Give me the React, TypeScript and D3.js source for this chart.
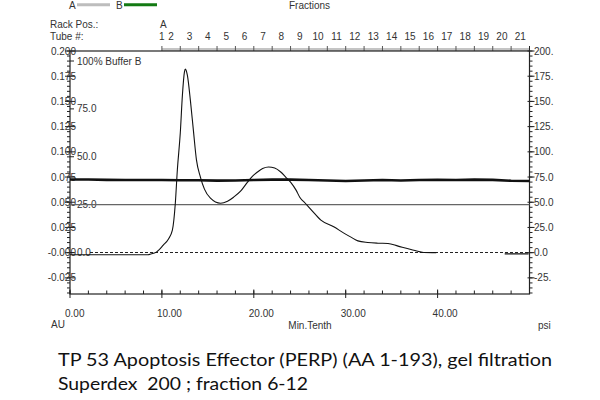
import React from "react";
import * as d3 from "d3";

// UV absorbance trace (AU) vs time (Min.Tenth)
const uvTime = [0, 8.5, 8.73, 9.4, 10.15, 10.7, 11.14, 11.46, 11.68, 12.0, 12.23, 12.45, 12.55, 12.77, 13.1, 13.43, 13.76, 14.19, 14.63, 15.28, 16.38, 17.14, 17.8, 18.56, 19.32, 19.87, 20.4, 20.96, 21.6, 22.27, 22.93, 23.47, 24.0, 24.6, 25.0, 25.6, 26.3, 27.3, 28.7, 29.8, 30.57, 31.33, 32.4, 33.5, 34.6, 35.7, 37.1, 38.5, 39.85, 40.5, 47.3, 49.9];
const uvAU = [-0.002, -0.002, -0.0015, 0.0005, 0.0074, 0.0134, 0.0223, 0.049, 0.082, 0.1186, 0.156, 0.179, 0.182, 0.176, 0.151, 0.121, 0.092, 0.075, 0.063, 0.054, 0.049, 0.051, 0.055, 0.061, 0.070, 0.076, 0.080, 0.0834, 0.0849, 0.0839, 0.080, 0.075, 0.070, 0.062, 0.055, 0.049, 0.042, 0.0323, 0.0256, 0.0194, 0.0154, 0.0117, 0.0101, 0.0094, 0.0091, 0.0065, 0.0032, 0.0002, 0, NaN, -0.0012, -0.0012];

// System pressure (psi)
const pTime = [0, 2, 4, 6, 8, 10, 12, 14, 16, 18, 20, 22, 24, 26, 28, 30, 32, 34, 36, 38, 40, 42, 44, 46, 48, 50];
const pPsi = [72.6, 72.5, 72.2, 72.0, 72.1, 72.0, 71.8, 71.8, 71.4, 71.5, 72.0, 72.4, 72.4, 72.0, 71.5, 71.1, 71.5, 72.0, 71.6, 72.0, 72.2, 72.0, 72.4, 72.2, 71.3, 71.1];

// Buffer B levels
const bufferLines = [25];
const bufferZero = 0;

const auTicks = [0.2, 0.175, 0.15, 0.125, 0.1, 0.075, 0.05, 0.025, 0, -0.025];
const auLabels = ["0.200", "0.175", "0.150", "0.125", "0.100", "0.075", "0.050", "0.025", "-0.000", "-0.025"];
const psiTicks = [200, 175, 150, 125, 100, 75, 50, 25, 0, -25];
const psiLabels = ["200.", "175.", "150.", "125.", "100.", "75.0", "50.0", "25.0", "0.0", "-25."];
const bTicks = [100, 75, 50, 25, 0];
const bLabels = ["100% Buffer B", "75.0", "50.0", "25.0", "0.0"];
const xMajor = [0, 10, 20, 30, 40];
const xLabels = ["0.00", "10.00", "20.00", "30.00", "40.00"];
const tubes = d3.range(1, 22);
const fracStart = 10;
const fracWidth = 2;

export default function App() {
  const x = d3.scaleLinear().domain([0, 50]).range([70, 529.5]);
  const yAU = d3.scaleLinear().domain([-0.041, 0.2]).range([294, 51]);
  const yPsi = d3.scaleLinear().domain([-41, 200]).range([294, 51]);
  const yB = d3.scaleLinear().domain([0, 100]).range([252.5, 61]);

  const uvData = uvTime.map((t, i) => [t, uvAU[i]] as [number, number]);
  const uvLine = d3.line<[number, number]>()
    .defined((d) => !isNaN(d[1]))
    .x((d) => x(d[0]))
    .y((d) => yAU(d[1]))
    .curve(d3.curveMonotoneX);
  const pData = pTime.map((t, i) => [t, pPsi[i]] as [number, number]);
  const pLine = d3.line<[number, number]>().x((d) => x(d[0])).y((d) => yPsi(d[1])).curve(d3.curveLinear);

  const font = "'Liberation Sans', Arial, sans-serif";
  const tc = "#333";
  const minorAU = d3.range(-0.04, 0.2001, 0.005);
  const minorPsi = d3.range(-40, 200.1, 5);
  const xMinor = d3.range(0, 50.01, 2);
  const fracTicks = d3.range(fracStart, 50.01, fracWidth);

  return (
    <svg width={600} height={400} style={{ display: "block", position: "absolute", left: 0, top: 0, background: "#fff" }} fontFamily={font}>
      <rect width={600} height={400} fill="#fff" />
      {/* legend */}
      <text x={69} y={9} fontSize={10} fill={tc}>A</text>
      <line x1={77} x2={110} y1={4.8} y2={4.8} stroke="#bdbdbd" strokeWidth={3} />
      <text x={116} y={9} fontSize={10} fill={tc}>B</text>
      <line x1={124} x2={157} y1={4.8} y2={4.8} stroke="#137a13" strokeWidth={3} />
      <text x={289} y={9} fontSize={10} fill={tc}>Fractions</text>
      <text x={50} y={28} fontSize={10} fill={tc}>Rack Pos.:</text>
      <text x={50} y={40} fontSize={10} fill={tc}>Tube #:</text>
      <text x={x(fracStart) - 2} y={28} fontSize={10} fill={tc}>A</text>
      {tubes.map((n) => {
        const cx = n === 1 ? x(fracStart) : x(fracStart + fracWidth * (n - 2) + fracWidth / 2);
        return (
          <text key={n} x={cx} y={40} fontSize={10} fill={tc} textAnchor="middle">{n}</text>
        );
      })}
      {/* top fraction bar */}
      <line x1={x(fracStart)} x2={x(50)} y1={49.5} y2={49.5} stroke="#c4c4c4" strokeWidth={3} />
      {fracTicks.map((t) => (
        <line key={t} x1={x(t)} x2={x(t)} y1={46} y2={51} stroke="#555" strokeWidth={1} />
      ))}
      {/* frame */}
      <rect x={x(0)} y={51} width={x(50) - x(0)} height={294 - 51} fill="none" stroke="#222" strokeWidth={1.2} />
      {/* left AU axis ticks */}
      {minorAU.map((v, i) => (
        <line key={i} x1={x(0) - 3} x2={x(0)} y1={yAU(v)} y2={yAU(v)} stroke="#222" />
      ))}
      {auTicks.map((v, i) => (
        <g key={i}>
          <line x1={x(0) - 5} x2={x(0) + 5} y1={yAU(v)} y2={yAU(v)} stroke="#222" />
          <text x={76} y={yAU(v) + 3.5} fontSize={10} fill={tc} textAnchor="end">{auLabels[i]}</text>
        </g>
      ))}
      {/* buffer B labels */}
      {bTicks.map((v, i) => (
        <g key={i}>
          <line x1={x(0)} x2={x(0) + 4} y1={yB(v)} y2={yB(v)} stroke="#222" />
          <text x={77} y={yB(v) + 3.5} fontSize={10} fill={tc}>{bLabels[i]}</text>
        </g>
      ))}
      {/* right psi axis */}
      {minorPsi.map((v, i) => (
        <line key={i} x1={x(50)} x2={x(50) + 3} y1={yPsi(v)} y2={yPsi(v)} stroke="#222" />
      ))}
      {psiTicks.map((v, i) => (
        <g key={i}>
          <line x1={x(50) - 2} x2={x(50) + 5} y1={yPsi(v)} y2={yPsi(v)} stroke="#222" />
          <text x={534} y={yPsi(v) + 3.5} fontSize={10} fill={tc}>{psiLabels[i]}</text>
        </g>
      ))}
      <line x1={x(50)} x2={x(50)} y1={46} y2={58} stroke="#222" />
      {/* bottom axis */}
      {xMinor.map((t) => (
        <line key={t} x1={x(t)} x2={x(t)} y1={290.5} y2={294} stroke="#222" />
      ))}
      {xMajor.map((t, i) => (
        <g key={t}>
          <line x1={x(t)} x2={x(t)} y1={289.5} y2={298} stroke="#222" />
          <text x={x(t) - 5} y={317} fontSize={10} fill={tc}>{xLabels[i]}</text>
        </g>
      ))}
      <text x={51} y={328} fontSize={10} fill={tc}>AU</text>
      <text x={310} y={329} fontSize={10} fill={tc} textAnchor="middle">Min.Tenth</text>
      <text x={538} y={329} fontSize={10} fill={tc}>psi</text>
      {/* buffer B lines */}
      {bufferLines.map((v) => (
        <line key={v} x1={x(0)} x2={x(50)} y1={yB(v)} y2={yB(v)} stroke="#666" strokeWidth={1.4} />
      ))}
      <line x1={x(0) + 20} x2={x(50)} y1={yB(bufferZero)} y2={yB(bufferZero)} stroke="#222" strokeWidth={1} strokeDasharray="3,2" />
      {/* pressure */}
      <path d={pLine(pData) || ""} fill="none" stroke="#111" strokeWidth={2.6} />
      {/* UV */}
      <path d={uvLine(uvData) || ""} fill="none" stroke="#111" strokeWidth={1.1} />
      {/* caption */}
      <text x={58} y={366} fontSize={17} fill="#111" fontFamily="Lato, 'Open Sans', sans-serif" textLength={494} lengthAdjust="spacingAndGlyphs">TP 53 Apoptosis Effector (PERP) (AA 1-193), gel filtration</text>
      <text x={58} y={390} fontSize={17} fill="#111" fontFamily="Lato, 'Open Sans', sans-serif" textLength={250} lengthAdjust="spacingAndGlyphs">{"Superdex\u00a0 200 ; fraction 6-12"}</text>
    </svg>
  );
}
